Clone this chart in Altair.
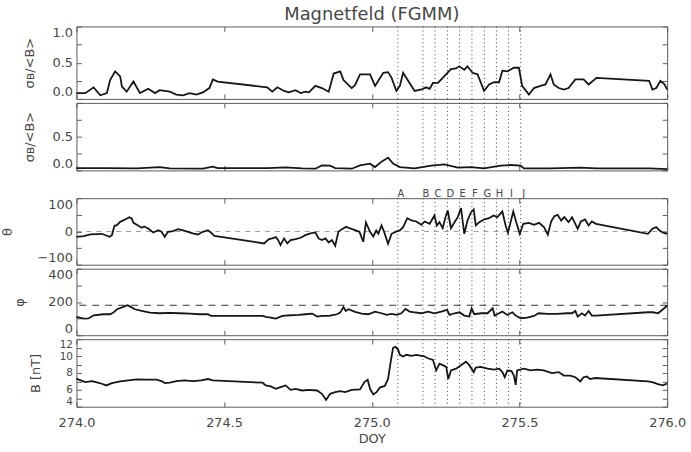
import altair as alt
import pandas as pd

title_text = "Magnetfeld (FGMM)"
x_title = "DOY"
x_ticks = [274.0, 274.5, 275.0, 275.5, 276.0]

event_labels = ["A", "B", "C", "D", "E", "F", "G", "H", "I", "J"]
event_doy = [275.088, 275.173, 275.214, 275.256, 275.297, 275.339, 275.381, 275.422, 275.463, 275.504]

# panel 1: sigma / <B>
s1_doy = [274.000, 274.030, 274.058, 274.081, 274.103, 274.114, 274.131, 274.148, 274.154, 274.170,
          274.193, 274.215, 274.243, 274.266, 274.282, 274.316, 274.338, 274.361, 274.383, 274.406,
          274.428, 274.450, 274.462, 274.478, 274.646, 274.663, 274.680, 274.703, 274.719, 274.742,
          274.759, 274.775, 274.787, 274.809, 274.831, 274.854, 274.871, 274.893, 274.904, 274.932,
          274.943, 274.960, 274.994, 275.011, 275.022, 275.039, 275.055, 275.067, 275.083, 275.095,
          275.106, 275.123, 275.145, 275.168, 275.184, 275.196, 275.207, 275.224, 275.240, 275.268,
          275.285, 275.296, 275.313, 275.324, 275.341, 275.358, 275.380, 275.397, 275.414, 275.431,
          275.442, 275.459, 275.481, 275.498, 275.509, 275.532, 275.549, 275.571, 275.588, 275.605,
          275.616, 275.633, 275.650, 275.666, 275.689, 275.717, 275.734, 275.761, 275.939, 275.950,
          275.963, 275.977, 275.991, 276.000]
s1_val = [0.08, 0.08, 0.16, 0.05, 0.08, 0.26, 0.38, 0.31, 0.17, 0.10,
          0.24, 0.08, 0.14, 0.08, 0.12, 0.10, 0.06, 0.05, 0.08, 0.06,
          0.09, 0.15, 0.27, 0.24, 0.16, 0.10, 0.16, 0.11, 0.09, 0.12,
          0.08, 0.10, 0.09, 0.18, 0.15, 0.10, 0.35, 0.38, 0.26, 0.15,
          0.19, 0.34, 0.34, 0.18, 0.25, 0.36, 0.37, 0.29, 0.11, 0.18,
          0.36, 0.25, 0.11, 0.13, 0.16, 0.14, 0.22, 0.22, 0.29, 0.41,
          0.42, 0.45, 0.40, 0.45, 0.36, 0.34, 0.11, 0.20, 0.23, 0.23,
          0.39, 0.38, 0.43, 0.43, 0.18, 0.06, 0.15, 0.18, 0.20, 0.34,
          0.20, 0.15, 0.13, 0.15, 0.27, 0.27, 0.20, 0.29, 0.25, 0.13,
          0.15, 0.25, 0.20, 0.13]

# panel 2: sigma / <B> (second component)
s2_doy = [274.000, 274.092, 274.204, 274.282, 274.316, 274.428, 274.462, 274.478, 274.646, 274.708,
          274.764, 274.809, 274.831, 274.859, 274.876, 274.932, 274.960, 274.994, 275.011, 275.033,
          275.055, 275.072, 275.095, 275.145, 275.201, 275.246, 275.291, 275.336, 275.380, 275.436,
          275.470, 275.504, 275.515, 275.605, 275.706, 275.761, 275.939, 276.000]
s2_val = [0.035, 0.035, 0.03, 0.05, 0.03, 0.025, 0.055, 0.035, 0.035, 0.045,
          0.03, 0.025, 0.075, 0.07, 0.035, 0.025, 0.075, 0.10, 0.05, 0.13,
          0.19, 0.10, 0.05, 0.03, 0.07, 0.09, 0.04, 0.05, 0.03, 0.07,
          0.08, 0.07, 0.03, 0.03, 0.04, 0.03, 0.03, 0.02]

# panel 3: theta
s3_doy = [274.000, 274.025, 274.047, 274.069, 274.086, 274.103, 274.112, 274.120, 274.129, 274.137,
          274.148, 274.165, 274.179, 274.187, 274.193, 274.210, 274.221, 274.229, 274.243, 274.260,
          274.277, 274.288, 274.299, 274.310, 274.327, 274.344, 274.361, 274.378, 274.394, 274.411,
          274.428, 274.445, 274.456, 274.467, 274.635, 274.652, 274.663, 274.675, 274.683, 274.691,
          274.703, 274.714, 274.725, 274.742, 274.759, 274.775, 274.792, 274.809, 274.820, 274.831,
          274.843, 274.854, 274.865, 274.876, 274.887, 274.899, 274.913, 274.927, 274.943, 274.958,
          274.971, 274.980, 274.994, 275.005, 275.015, 275.022, 275.033, 275.042, 275.055, 275.067,
          275.084, 275.095, 275.106, 275.120, 275.134, 275.151, 275.168, 275.179, 275.196, 275.212,
          275.220, 275.229, 275.240, 275.248, 275.257, 275.268, 275.280, 275.291, 275.302, 275.313,
          275.324, 275.336, 275.345, 275.352, 275.364, 275.380, 275.397, 275.412, 275.425, 275.442,
          275.453, 275.461, 275.470, 275.479, 275.489, 275.501, 275.513, 275.532, 275.549, 275.566,
          275.583, 275.596, 275.607, 275.618, 275.629, 275.641, 275.652, 275.666, 275.678, 275.689,
          275.697, 275.708, 275.722, 275.734, 275.745, 275.759, 275.935, 275.950, 275.963, 275.974,
          275.986, 276.000]
s3_val = [-16, -14, -9, -8, -7, -13, -16, -11, 17, 19,
          29, 36, 43, 39, 26, 17, 11, 15, 9, -3,
          4, -1, -16, -1, 1, 7, 3, -1, -6, -9,
          -1, 4, -4, -13, -36, -23, -21, -17, -26, -41,
          -21, -36, -26, -23, -19, -11, -6, -3, -21, -26,
          -21, -33, -26, -43, -1, 7, 14, 9, 4, -1,
          -31, 27, -1, -15, 3, -7, 18, -2, -37, -7,
          0, 3, 13, 40, 33, 30, 20, 30, 23, 48,
          18, 28, 10, 38, 63, 10, 28, 43, 70, -7,
          33, 58, 66, 18, 28, 36, 40, 48, 43, 60,
          18, -4, 28, 60, 28, -7, 23, 26, 20, 26,
          13, -10, 30, 46, 50, 33, 43, 28, 43, 23,
          8, 30, 36, 18, 30, 23, -7, 8, 13, 3,
          -4, -7]

# panel 4: phi
s4_doy = [274.000, 274.025, 274.041, 274.058, 274.092, 274.114, 274.125, 274.137, 274.159, 274.173,
          274.182, 274.198, 274.221, 274.249, 274.282, 274.316, 274.350, 274.383, 274.417, 274.445,
          274.456, 274.467, 274.630, 274.641, 274.658, 274.675, 274.697, 274.725, 274.753, 274.775,
          274.798, 274.815, 274.831, 274.854, 274.871, 274.882, 274.893, 274.904, 274.912, 274.921,
          274.943, 274.966, 274.988, 275.011, 275.033, 275.050, 275.067, 275.084, 275.100, 275.114,
          275.128, 275.145, 275.168, 275.190, 275.212, 275.235, 275.255, 275.263, 275.280, 275.297,
          275.313, 275.330, 275.338, 275.347, 275.370, 275.392, 275.409, 275.416, 275.431, 275.442,
          275.459, 275.476, 275.487, 275.504, 275.526, 275.549, 275.565, 275.594, 275.627, 275.661,
          275.678, 275.689, 275.697, 275.711, 275.722, 275.734, 275.745, 275.759, 275.935, 275.952,
          275.969, 275.983, 276.000]
s4_val = [110, 100, 101, 120, 126, 126, 136, 156, 170, 180,
          172, 156, 146, 136, 132, 134, 132, 130, 126, 126,
          116, 116, 116, 110, 106, 100, 116, 120, 122, 126,
          130, 112, 116, 116, 122, 126, 136, 170, 146, 156,
          140, 130, 126, 142, 132, 122, 128, 122, 132, 158,
          142, 138, 132, 142, 132, 142, 152, 122, 132, 138,
          118, 112, 162, 126, 132, 132, 162, 118, 132, 142,
          122, 138, 118, 102, 106, 116, 132, 128, 128, 132,
          132, 146, 112, 132, 118, 146, 118, 118, 138, 138,
          132, 152, 177]

# panel 5: |B| in nT
s5_doy = [274.000, 274.008, 274.030, 274.053, 274.069, 274.086, 274.101, 274.120, 274.148, 274.176,
          274.204, 274.238, 274.271, 274.288, 274.299, 274.316, 274.338, 274.366, 274.394, 274.422,
          274.445, 274.462, 274.630, 274.641, 274.658, 274.675, 274.691, 274.708, 274.725, 274.742,
          274.764, 274.787, 274.815, 274.831, 274.845, 274.859, 274.876, 274.893, 274.910, 274.932,
          274.960, 274.975, 274.986, 274.994, 275.005, 275.016, 275.027, 275.044, 275.055, 275.064,
          275.072, 275.080, 275.089, 275.095, 275.106, 275.117, 275.134, 275.151, 275.168, 275.179,
          275.190, 275.207, 275.218, 275.229, 275.240, 275.252, 275.259, 275.268, 275.285, 275.302,
          275.319, 275.330, 275.345, 275.352, 275.369, 275.392, 275.414, 275.431, 275.442, 275.450,
          275.459, 275.473, 275.481, 275.487, 275.492, 275.515, 275.537, 275.560, 275.582, 275.610,
          275.633, 275.650, 275.672, 275.689, 275.706, 275.717, 275.728, 275.739, 275.756, 275.935,
          275.952, 275.969, 275.986, 276.000]
s5_val = [7.32, 7.2, 6.92, 7.04, 6.88, 6.72, 6.52, 6.8, 7.0, 7.12,
          7.24, 7.2, 7.2, 7.04, 6.8, 6.84, 7.04, 7.12, 7.04, 7.12,
          7.28, 7.12, 6.84, 6.52, 6.4, 6.12, 6.32, 6.52, 6.0, 6.12,
          5.92, 6.0, 5.92, 5.52, 4.8, 5.52, 5.72, 5.84, 5.72, 6.0,
          6.04, 6.92, 7.2, 6.12, 5.44, 5.72, 6.26, 6.46, 7.28, 9.33,
          10.97, 11.1, 10.77, 10.15, 9.95, 10.15, 10.03, 10.15, 10.03, 9.95,
          9.74, 9.54, 8.3, 9.1, 8.92, 8.72, 7.28, 8.3, 8.51, 8.92,
          9.33, 8.92, 8.1, 8.63, 8.72, 8.51, 8.39, 8.51, 8.1, 7.49,
          8.3, 8.22, 7.69, 6.58, 8.3, 8.51, 8.3, 8.39, 8.3, 7.98,
          8.1, 7.69, 7.69, 7.49, 7.0, 7.49, 7.57, 7.28, 7.4, 7.0,
          6.87, 6.67, 6.54, 6.75]

FONT = "DejaVu Sans"
INK = "#161616"
TEXT = "#474747"
FRAME = "#5c5c5c"
W = 595

xscale = alt.Scale(domain=[274.0, 276.0], nice=False, zero=False)
events = pd.DataFrame({"doy": event_doy, "label": event_labels})


def panel(doy, val, ydomain, yticks, ylabels, yfmt, ytitle, height, tpad,
          xlabels=False, ref=None, ref_style=None, ylabel_size=13):
    df = pd.DataFrame({"doy": doy, "v": val})
    yscale = alt.Scale(domain=ydomain, nice=False, zero=False)
    cond = " || ".join(f"datum.value == {v}" for v in ylabels)
    xaxis_kw = dict(orient="bottom", values=x_ticks, format=".1f", labels=xlabels,
                    offset=-5, tickSize=5, domain=False, grid=False, labelFlush=False,
                    labelPadding=10, titlePadding=3)
    xaxis = alt.Axis(title=x_title, **xaxis_kw) if xlabels else alt.Axis(title=None, **xaxis_kw)
    main = alt.Chart(df).mark_line(color=INK, strokeWidth=1.8).encode(
        x=alt.X("doy:Q", scale=xscale, axis=xaxis),
        y=alt.Y("v:Q", scale=yscale,
                axis=alt.Axis(orient="left", values=yticks, format=yfmt,
                              labelExpr=f"({cond}) ? datum.label : ''",
                              title=ytitle, offset=-5, tickSize=5, domain=False,
                              grid=False, labelFlush=True, labelOverlap=False,
                              labelFontSize=ylabel_size,
                              labelPadding=4, titlePadding=tpad)),
    )
    ticks = alt.Chart(df).mark_line(strokeOpacity=0).encode(
        x=alt.X("doy:Q", scale=xscale,
                axis=alt.Axis(orient="top", values=x_ticks, labels=False, title=None,
                              offset=-5, tickSize=5, domain=False, grid=False)),
        y=alt.Y("v:Q", scale=yscale,
                axis=alt.Axis(orient="right", values=yticks, labels=False, title=None,
                              offset=-5, tickSize=5, domain=False, grid=False)),
    )
    ev = alt.Chart(events).mark_rule(color="#3a3a3a", strokeWidth=1, strokeDash=[1, 3]).encode(
        x=alt.X("doy:Q", scale=xscale, axis=None)
    )
    layers = [ev]
    if ref is not None:
        rdf = pd.DataFrame({"r": [ref]})
        layers.append(alt.Chart(rdf).mark_rule(**ref_style).encode(
            y=alt.Y("r:Q", scale=yscale, axis=None)))
    layers += [main, ticks]
    return alt.layer(*layers).resolve_axis(x="independent", y="independent").properties(
        width=W, height=height)


p1 = panel(s1_doy, s1_val, [0, 1], [0, 0.25, 0.5, 0.75, 1.0], [0, 0.5, 1], ".1f",
           "σʙ/<B>", 73, 16).properties(
    title=alt.TitleParams(title_text, font=FONT, fontSize=18, fontWeight="normal",
                          color=TEXT, anchor="middle", frame="group", offset=2))
p2 = panel(s2_doy, s2_val, [0, 1], [0, 0.25, 0.5, 0.75, 1.0], [0, 0.5], ".1f",
           "σʙ/<B>", 68, 16)
letters = alt.Chart(events).mark_text(font=FONT, fontSize=10, color=TEXT,
                                      baseline="alphabetic", dx=3).encode(
    x=alt.X("doy:Q", scale=xscale, axis=None),
    y=alt.value(23),
    text="label:N",
).properties(width=W, height=20, view=alt.ViewBackground(stroke="transparent"))
p3 = panel(s3_doy, s3_val, [-100, 100], [-100, -50, 0, 50, 100], [-100, 0, 100], "d",
           "θ", 67, 23, ref=0,
           ref_style=dict(color="#9a9a9a", strokeWidth=1, strokeDash=[5, 5]))
p4 = panel(s4_doy, s4_val, [0, 400], [0, 100, 200, 300, 400], [0, 200, 400], "d",
           "φ", 67, 22, ref=180,
           ref_style=dict(color="#333333", strokeWidth=1, strokeDash=[7, 6]))
p5 = panel(s5_doy, s5_val, [4, 12], list(range(4, 13)), [4, 6, 8, 10, 12], "d",
           "B [nT]", 68, 17, xlabels=True, ylabel_size=10.5)

chart = alt.vconcat(p1, p2, letters, p3, p4, p5, spacing=4, bounds="flush").configure_view(
    stroke=FRAME, strokeWidth=1
).configure_axis(
    labelFont=FONT, titleFont=FONT, labelFontSize=13, titleFontSize=13,
    labelColor=TEXT, titleColor=TEXT, tickColor=FRAME, titleFontWeight="normal",
).properties(
    padding={"left": 0, "top": 4, "right": 4, "bottom": 4}, background="white"
)

chart.save("out.html", embed_options={"renderer": "svg", "actions": False})
